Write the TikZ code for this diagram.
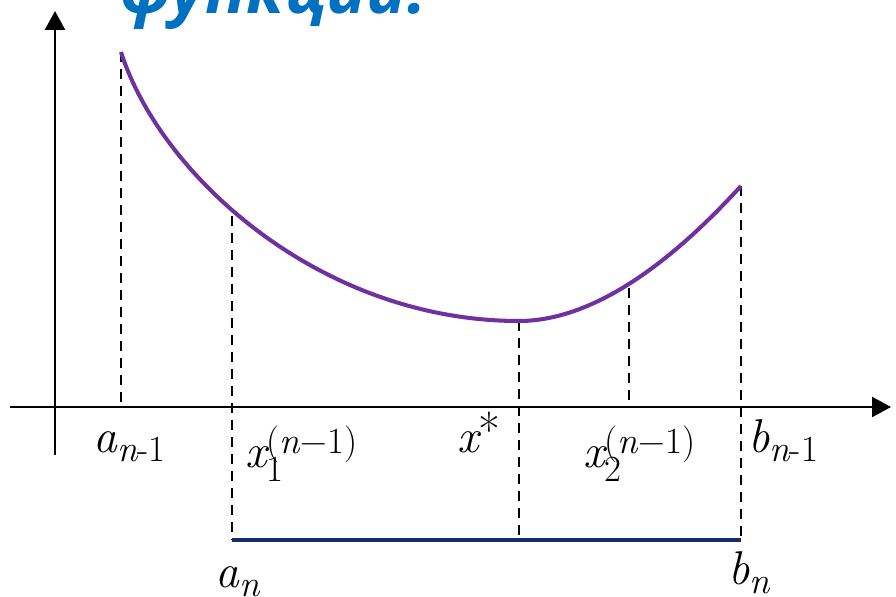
\documentclass[tikz,border=0pt]{standalone}
\usepackage{fontspec}
\newfontfamily\lblfont{Latin Modern Roman}
\newfontfamily\titlefont{Open Sans}
\usetikzlibrary{arrows.meta, positioning}
\definecolor{curvepurple}{RGB}{112,48,160}
\definecolor{segblue}{RGB}{22,45,105}
\definecolor{titleblue}{RGB}{0,112,192}
\newcommand{\lowidx}[2]{\raisebox{-#1}{\fontsize{21}{24}\selectfont #2}}
\newcommand{\highidx}[1]{\raisebox{0.3cm}{\fontsize{21}{24}\selectfont\upshape #1}}

\begin{document}
\begin{tikzpicture}[x=0.02cm, y=-0.02cm,
  axis/.style={draw=black, line width=1.4pt, -{Triangle[length=0.38cm, width=0.4cm]}},
  guide/.style={draw=black, line width=0.85pt, dash pattern=on 0.21cm off 0.13cm},
  fcurve/.style={draw=curvepurple, line width=2.3pt},
  seg/.style={draw=segblue, line width=2.6pt},
  lbl/.style={inner sep=0pt, anchor=base west, font=\lblfont\fontsize{27}{30}\selectfont\itshape},
  ttl/.style={inner sep=0pt, anchor=base west, text=titleblue,
    font=\titlefont\fontsize{38}{44}\selectfont\bfseries\itshape}
]
  \clip (0,0) rectangle (896,597);

  % axes
  \coordinate (ox0) at (10,407);
  \coordinate (ox1) at (891,407);
  \coordinate (oy0) at (55,455);
  \coordinate (oy1) at (55,11);
  \draw[axis] (ox0) -- (ox1);
  \draw[axis] (oy0) -- (oy1);

  % points on the curve
  \coordinate (cA) at (121,52);
  \coordinate (c1) at (232,216);
  \coordinate (cS) at (519,321);
  \coordinate (c2) at (629,288);
  \coordinate (cB) at (741,186);

  % feet on the axis and on the segment
  \coordinate (tA) at (121,407);
  \coordinate (t2) at (629,407);
  \coordinate (sA) at (232,540);
  \coordinate (sS) at (519,540);
  \coordinate (sB) at (741,540);

  \draw[guide] (cA) -- (tA);
  \draw[guide] (c1) -- (sA);
  \draw[guide] (cS) -- (sS);
  \draw[guide] (c2) -- (t2);
  \draw[guide] (cB) -- (sB);

  \draw[fcurve] (cA) .. controls (160,175) and (320,321) .. (cS)
                     .. controls (609,321) and (696,235) .. (cB);

  \draw[seg] (sA) -- (sB);

  % labels
  \node[lbl] (la1) at (93,453) {a\lowidx{0.18cm}{n\upshape-1}};
  \node[lbl] (lx1) at (245,468) {x\rlap{\lowidx{0.28cm}{\upshape 1}}\highidx{(\textit{n}−1)}};
  \node[lbl] (lxs) at (457,453) {x\upshape\raisebox{0.1cm}{*}};
  \node[lbl] (lx2) at (583,468) {x\rlap{\lowidx{0.28cm}{\upshape 2}}\highidx{(\textit{n}−1)}};
  \node[lbl] (lb1) at (748,453) {b\lowidx{0.18cm}{n\upshape-1}};
  \node[lbl] (lan) at (215,587) {a\lowidx{0.2cm}{n}};
  \node[lbl] (lbn) at (728,584) {b\lowidx{0.2cm}{n}};

  \node[ttl] (title) at (120,14) {функции.};
\end{tikzpicture}
\end{document}
